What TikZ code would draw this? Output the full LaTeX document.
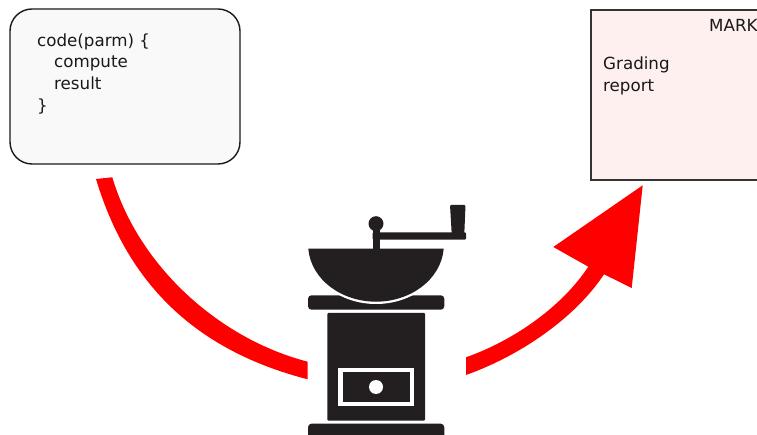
\documentclass[tikz,border=0pt]{standalone}
\usepackage{fontspec}
\setmainfont{DejaVu Sans}
\definecolor{inkblack}{HTML}{231F20}
\definecolor{codefill}{HTML}{F9F9F9}
\definecolor{markfill}{HTML}{FFF0F0}
\tikzset{
  x=1pt,y=-1pt,
  txt/.style={anchor=base west,inner sep=0pt,font=\fontsize{16.7pt}{22pt}\selectfont,text=black!90},
  codebox/.style={draw=black!90,line width=1.4pt,fill=codefill,rounded corners=22pt,minimum width=230pt,minimum height=155pt,inner sep=0pt},
  markbox/.style={draw=black!80,line width=1.2pt,fill=markfill,minimum width=240pt,minimum height=170pt,inner sep=0pt},
  flow/.style={fill=red,draw=none},
  ink/.style={fill=inkblack,draw=none},
}
\begin{document}
\begin{tikzpicture}
\useasboundingbox (0,0) rectangle (757,435);
\clip (0,0) rectangle (757,435);
% boxes
\node[codebox] (code) at (125,86.5) {};
\node[markbox] (mark) at (711,95) {};
% texts
\node[txt] (t1) at (37,46.5) {code(parm) \{};
\node[txt] (t2) at (54,68) {compute};
\node[txt] (t3) at (54,90) {result};
\node[txt] (t4) at (37,112) {\}};
\node[txt] (t5) at (709,32) {MARK};
\node[txt] (t6) at (603,70) {Grading};
\node[txt] (t7) at (603,92) {report};
% left arrow
\coordinate (lao) at (96,179);
\coordinate (lai) at (112.3,177.3);
\coordinate (lbi) at (307.7,361.7);
\coordinate (lbo) at (307.7,379.3);
\fill[flow] (lai) .. controls (139,267.3) and (220.4,339.2) .. (lbi) -- (lbo)
  .. controls (201,351.8) and (129,289) .. (lao) -- cycle;
% right arrow
\coordinate (rau) at (466,357.3);
\coordinate (ral) at (466,375);
\coordinate (rbu) at (588.3,266.7);
\coordinate (rbl) at (604,274.3);
\coordinate (tip) at (642.7,185.3);
\coordinate (hl) at (553.3,247);
\coordinate (hr) at (631.7,288);
\fill[flow] (ral) -- (rau) .. controls (512.5,340.8) and (560.8,308.2) .. (rbu)
  -- (hl) -- (tip) -- (hr) -- (rbl)
  .. controls (573.8,320) and (517,356.9) .. (ral) -- cycle;
% grinder
\fill[ink,rounded corners=3.5pt] (308,295.3) rectangle (444.3,309.7);
\path[ink,draw=white,line width=4.6pt] (308.3,248.7) .. controls (311,280) and (342,301.7) .. (376,301.7) .. controls (410,301.7) and (441,280) .. (443.7,248.7) -- cycle;
\fill[white] (300,240) rectangle (452,248.7);
\fill[ink] (308.3,248.7) .. controls (311,280) and (342,301.7) .. (376,301.7) .. controls (410,301.7) and (441,280) .. (443.7,248.7) -- cycle;
\fill[ink] (376,223.7) circle (7.5);
\fill[ink] (372.5,224) rectangle (379.7,250);
\fill[ink,rounded corners=1pt] (372.5,232.3) rectangle (466,239.7);
\fill[ink,rounded corners=1pt] (450,205) -- (465.5,205) -- (464.3,234) -- (451.7,234) -- cycle;
\fill[ink,rounded corners=1pt] (327.3,313) rectangle (425,420.7);
\draw[white,line width=4.2pt] (340.5,369.8) rectangle (411.8,404.2);
\fill[white] (376,387) circle (7);
\fill[ink,rounded corners=3.5pt] (308,423.7) rectangle (444.3,445);
\end{tikzpicture}
\end{document}
